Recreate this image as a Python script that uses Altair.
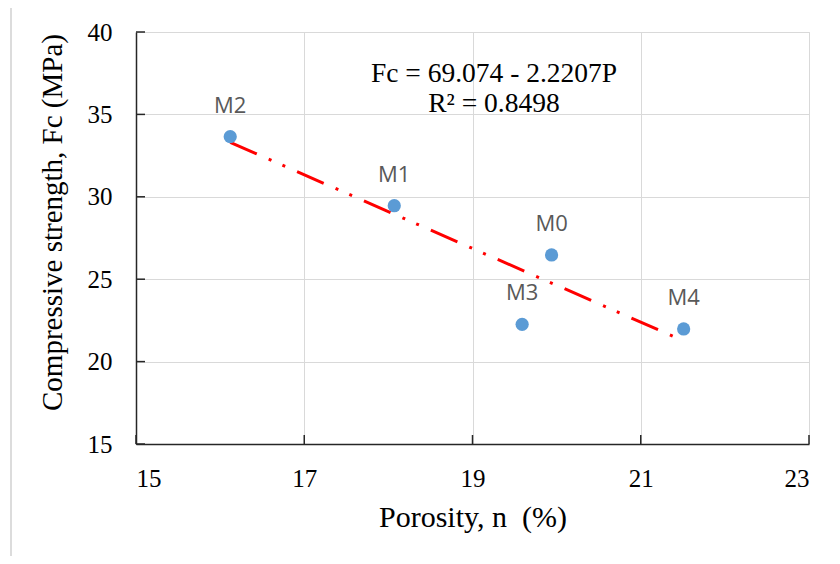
import altair as alt
import pandas as pd

# Data
mixes = ["M0", "M1", "M2", "M3", "M4"]
porosity = [19.94, 18.07, 16.12, 19.59, 21.51]
strength = [26.47, 29.46, 33.65, 22.26, 21.98]

x_ticks = [15, 17, 19, 21, 23]
y_ticks = [15, 20, 25, 30, 35, 40]

eq_lines = ["Fc = 69.074 - 2.2207P", "R² = 0.8498"]

W, H = 673, 412

df = pd.DataFrame({"mix": mixes, "n": porosity, "fc": strength})
xt = pd.DataFrame({"v": x_ticks})
yt = pd.DataFrame({"v": y_ticks})

xscale = alt.Scale(domain=[15, 23], nice=False, zero=False)
yscale = alt.Scale(domain=[15, 40], nice=False, zero=False)

xaxis = alt.Axis(
    values=x_ticks, format="d", grid=True, gridColor="#d9d9d9", gridWidth=1,
    domainColor="#262626", domainWidth=1.5, ticks=False, tickSize=0,
    labelFont="Liberation Serif", labelFontSize=25, labelColor="#000000",
    labelBaseline="alphabetic", labelPadding=42,
    title="Porosity, n\u00a0\u00a0(%)", titleFont="Liberation Serif", titleFontSize=30,
    titleFontWeight="normal", titleColor="#000000",
    titleBaseline="alphabetic", titleY=82, titleX=W / 2,
)
yaxis = alt.Axis(
    values=y_ticks, format="d", grid=True, gridColor="#d9d9d9", gridWidth=1,
    domainColor="#262626", domainWidth=1.5, ticks=False, tickSize=0,
    labelFont="Liberation Serif", labelFontSize=25, labelColor="#000000",
    labelPadding=24, labelBaseline="middle",
    title="Compressive strength, Fc (MPa)", titleFont="Liberation Serif",
    titleFontSize=29, titleFontWeight="normal", titleColor="#000000",
    titleAngle=-90, titleBaseline="alphabetic", titleAlign="center",
    titleX=-75, titleY=190,
)

base = alt.Chart(df)

points = base.mark_circle(size=175, color="#5B9BD5", opacity=1).encode(
    x=alt.X("n:Q", scale=xscale, axis=xaxis),
    y=alt.Y("fc:Q", scale=yscale, axis=yaxis),
)

labels = base.mark_text(
    font="Open Sans", fontSize=22, color="#595959",
    baseline="alphabetic", align="center", dy=-24,
).encode(x=alt.X("n:Q", scale=xscale), y=alt.Y("fc:Q", scale=yscale), text="mix:N")

trend = base.transform_regression("n", "fc").mark_line(
    color="#FF0000", strokeWidth=3, strokeDash=[29, 13, 3, 12, 3, 13], strokeCap="butt"
).encode(x=alt.X("n:Q", scale=xscale), y=alt.Y("fc:Q", scale=yscale))

xticks_in = alt.Chart(xt).mark_rule(color="#262626", strokeWidth=1.5).encode(
    x=alt.X("v:Q", scale=xscale), y=alt.value(H), y2=alt.value(H - 9)
)
yticks_in = alt.Chart(yt).mark_rule(color="#262626", strokeWidth=1.5).encode(
    y=alt.Y("v:Q", scale=yscale), x=alt.value(0), x2=alt.value(9)
)

eq_df = pd.DataFrame({"t": eq_lines, "row": [0, 1]})
eq1 = alt.Chart(eq_df.iloc[[0]]).mark_text(
    font="Liberation Serif", fontSize=27.5, color="#000000", align="center", baseline="alphabetic"
).encode(text="t:N", x=alt.value(358), y=alt.value(50))
eq2 = alt.Chart(eq_df.iloc[[1]]).mark_text(
    font="Liberation Serif", fontSize=27.5, color="#000000", align="center", baseline="alphabetic"
).encode(text="t:N", x=alt.value(358), y=alt.value(80))

frame = alt.Chart(xt.iloc[[0]]).mark_rule(color="#dcdcdc", strokeWidth=2).encode(
    x=alt.value(-125), y=alt.value(-40), y2=alt.value(H + 200)
)

chart = alt.layer(frame, xticks_in, yticks_in, trend, points, labels, eq1, eq2).properties(
    width=W, height=H,
    autosize=alt.AutoSizeParams(type="none"),
    padding={"left": 128, "top": 24, "right": 23, "bottom": 112},
).configure_view(stroke=None).configure(background="white")

chart.save("out.html", embed_options={"renderer": "svg", "actions": False})
